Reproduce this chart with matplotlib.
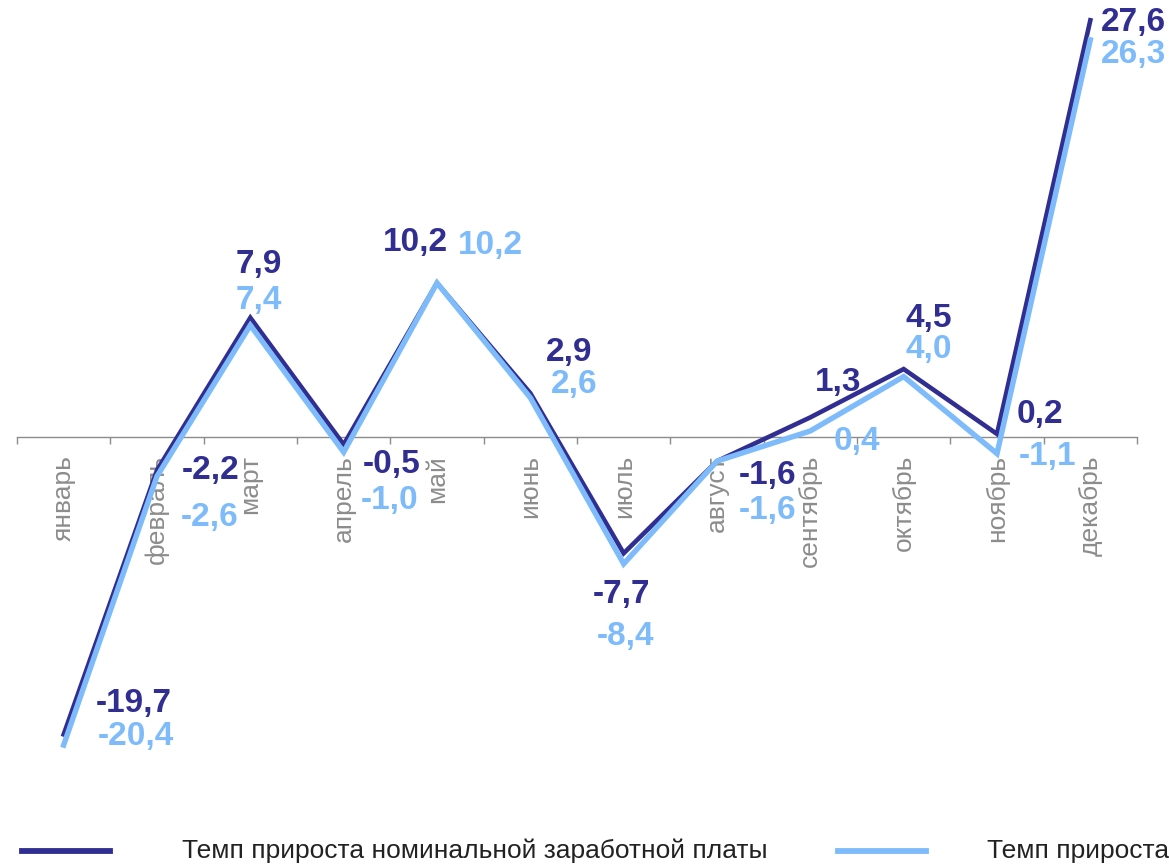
import matplotlib
matplotlib.use('Agg')
import matplotlib.pyplot as plt
from matplotlib.lines import Line2D

plt.rcParams['font.family'] = ['Liberation Sans', 'DejaVu Sans']

months = ['январь', 'февраль', 'март', 'апрель', 'май', 'июнь',
          'июль', 'август', 'сентябрь', 'октябрь', 'ноябрь', 'декабрь']
nominal = [-19.7, -2.2, 7.9, -0.5, 10.2, 2.9, -7.7, -1.6, 1.3, 4.5, 0.2, 27.6]
real = [-20.4, -2.6, 7.4, -1.0, 10.2, 2.6, -8.4, -1.6, 0.4, 4.0, -1.1, 26.3]
# second legend entry is cut by the picture edge in the source, only this part is visible
series_names = ['Темп прироста номинальной заработной платы',
                'Темп прироста']

dark = '#312E91'
light = '#7DBBFB'
grey = '#8C8C8C'

# label offsets in pixels (dx, dy up) relative to each point
nominal_off = [(70, 31), (54, 0), (8, 53), (48, -20), (-22, 40), (39, 41),
               (-2, -41), (51, -14), (28, 35), (25, 51), (43, 19), (43, -2)]
real_off = [(72, 9), (53, -41), (8, 25), (46, -48), (53, 37), (44, 13),
            (2, -73), (51, -49), (47, -11), (25, 27), (51, -3), (43, -15)]

W, H = 1169, 865
fig = plt.figure(figsize=(W / 100, H / 100), dpi=100)
ymin, ymax = -24, 28
px_per_unit = 15.1
ax_h = (ymax - ymin) * px_per_unit
ax_bottom = H - (437 + (-ymin) * px_per_unit)
ax = fig.add_axes([17 / W, ax_bottom / H, 1120 / W, ax_h / H])

x = list(range(len(months)))
ax.plot(x, nominal, color=dark, lw=3.3, solid_joinstyle='miter', zorder=3)
ax.plot(x, real, color=light, lw=3.9, solid_joinstyle='miter', zorder=4)

for i, v in enumerate(nominal):
    ax.annotate(f'{v:.1f}'.replace('.', ','), (i, v), xytext=nominal_off[i],
                textcoords='offset pixels', ha='center', va='center',
                fontsize=24, fontweight='bold', color=dark, zorder=5)
for i, v in enumerate(real):
    ax.annotate(f'{v:.1f}'.replace('.', ','), (i, v), xytext=real_off[i],
                textcoords='offset pixels', ha='center', va='center',
                fontsize=24, fontweight='bold', color=light, zorder=5)

ax.set_xlim(-0.5, len(months) - 0.5)
ax.set_ylim(ymin, ymax)
for s in ['top', 'right', 'left']:
    ax.spines[s].set_visible(False)
ax.spines['bottom'].set_position(('data', 0))
ax.spines['bottom'].set_color(grey)
ax.spines['bottom'].set_linewidth(1.0)
ax.set_yticks([])
ax.set_xticks([i - 0.5 for i in range(len(months) + 1)])
ax.set_xticklabels([])
ax.tick_params(axis='x', which='major', length=5, width=1.0, color=grey, direction='out')
ax.set_xticks(x, minor=True)
ax.set_xticklabels(months, minor=True, rotation=90, va='top', ha='center',
                   fontsize=19, color=grey)
ax.tick_params(axis='x', which='minor', length=0, pad=13)

# legend along the bottom edge
fig.add_artist(Line2D([22 / W, 110 / W], [1 - 851 / H] * 2, color=dark, lw=4.2))
fig.text(182 / W, 1 - 851 / H, series_names[0], fontsize=19, color='#222222',
         va='center', ha='left')
fig.add_artist(Line2D([838 / W, 926 / W], [1 - 851 / H] * 2, color=light, lw=4.2))
fig.text(987 / W, 1 - 851 / H, series_names[1], fontsize=19, color='#222222',
         va='center', ha='left')

fig.savefig('out.png', dpi=100)
